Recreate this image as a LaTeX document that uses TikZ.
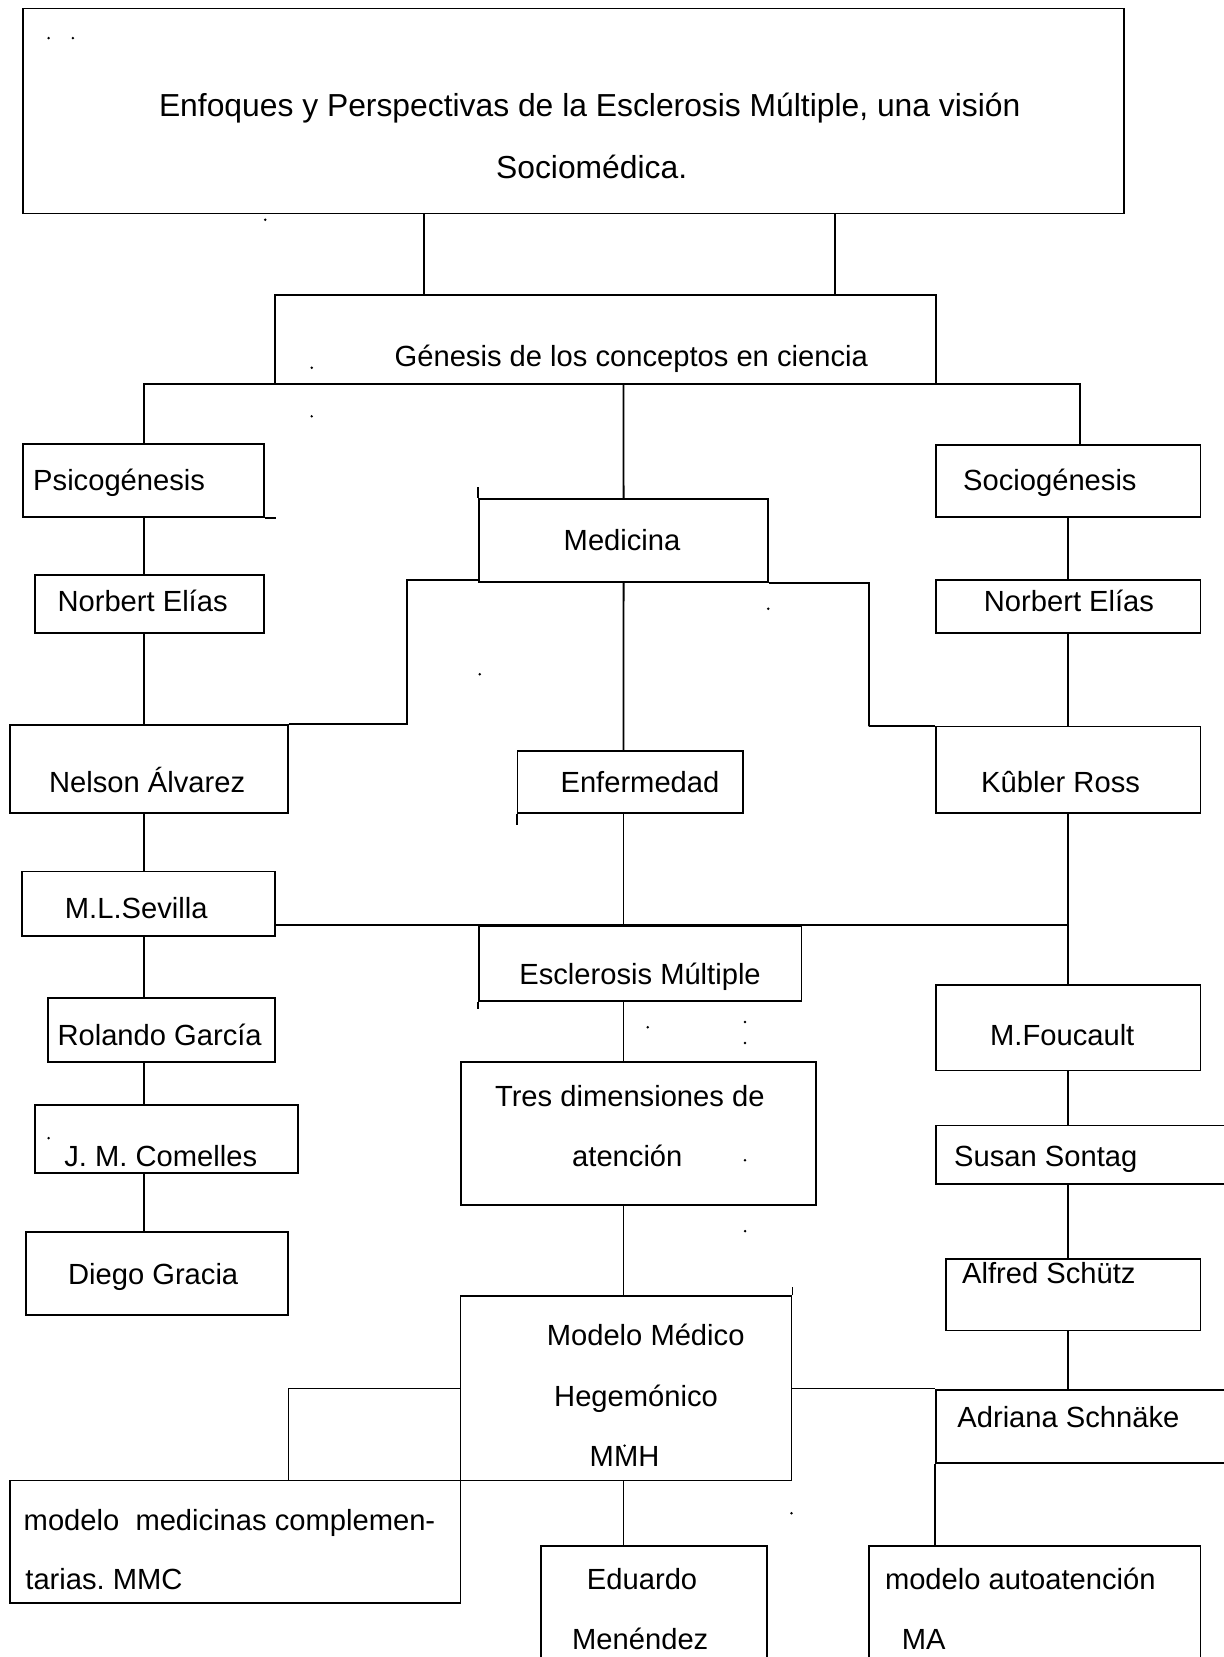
\documentclass[tikz,border=0pt]{standalone}
\usepackage{fontspec}
\setmainfont{Liberation Sans}
\usetikzlibrary{fit}
\frenchspacing
\begin{document}
\begin{tikzpicture}[x=0.435pt,y=-0.435pt,
    caja/.style={draw,line width=0.75pt,inner sep=0pt},
    texto/.style={anchor=west,inner sep=0pt,font=\fontsize{12}{14}\selectfont,text height=9pt,text depth=0.4pt},
    titular/.style={texto,font=\fontsize{13.1}{15}\selectfont},
    enlace/.style={line width=0.75pt}]
\useasboundingbox (0,0) rectangle (1158,1568);

% cajas
\node[caja,fit={(22,8) (1064,202)}] (titulo) {};
\node[caja,fit={(260,279) (885.5,363)}] (genesis) {};
\node[caja,fit={(22,420) (249.6,489.4)}] (psico) {};
\node[caja,fit={(453.5,472) (726.7,551)}] (medicina) {};
\node[caja,fit={(885.5,421) (1136,489.4)}] (socio) {};
\node[caja,fit={(33,544) (249.6,599)}] (norteI) {};
\node[caja,fit={(885.5,549) (1136,599)}] (norteD) {};
\node[caja,fit={(9.6,686) (272.5,769.5)}] (nelson) {};
\node[caja,fit={(489.7,711) (703,769.5)}] (enfermedad) {};
\node[caja,fit={(885.5,687.5) (1136,769.5)}] (kubler) {};
\node[caja,fit={(20.7,824.7) (260,885.5)}] (sevilla) {};
\node[caja,fit={(453.5,876) (758.5,947)}] (esclerosis) {};
\node[caja,fit={(45.8,944) (260,1005)}] (rolando) {};
\node[caja,fit={(885.5,932) (1136,1013)}] (foucault) {};
\node[caja,fit={(436.5,1004.6) (772,1140.6)}] (tres) {};
\node[caja,fit={(33,1045.5) (282,1110)}] (comelles) {};
\node[caja,fit={(885.5,1065) (1175,1120.5)}] (susan) {};
\node[caja,fit={(24.4,1166) (272.5,1244.7)}] (diego) {};
\node[caja,fit={(895,1191.4) (1136,1259)}] (alfred) {};
\node[caja,fit={(435.7,1226.7) (749,1401)}] (mmh) {};
\node[caja,fit={(885.5,1315) (1175,1384.4)}] (adriana) {};
\node[caja,fit={(9.6,1401) (435.7,1517)}] (mmc) {};
\node[caja,fit={(512,1463) (726,1620)}] (eduardo) {};
\node[caja,fit={(822,1463) (1136,1620)}] (ma) {};

% textos
\node[titular] (titulo-a) at (150,100) {Enfoques y Perspectivas de la Esclerosis Múltiple, una visión};
\node[titular] (titulo-b) at (469,159) {Sociomédica.};
\node[texto] (genesis-t) at (373,337) {Génesis de los conceptos en ciencia};
\node[texto] (psico-t) at (31,454) {Psicogénesis};
\node[texto] (medicina-t) at (533,511) {Medicina};
\node[texto] (socio-t) at (911,454) {Sociogénesis};
\node[texto] (norteI-t) at (54,569) {Norbert Elías};
\node[texto] (norteD-t) at (930.6,569) {Norbert Elías};
\node[texto] (nelson-t) at (46,740) {Nelson Álvarez};
\node[texto] (enfermedad-t) at (530,740) {Enfermedad};
\node[texto] (kubler-t) at (928,740) {Kûbler Ross};
\node[texto] (sevilla-t) at (61,859) {M.L.Sevilla};
\node[texto] (esclerosis-t) at (491,922) {Esclerosis Múltiple};
\node[texto] (rolando-t) at (54,979) {Rolando García};
\node[texto] (foucault-t) at (936.5,979) {M.Foucault};
\node[texto] (tres-a) at (468,1037) {Tres dimensiones de};
\node[texto] (tres-b) at (541,1094) {atención};
\node[texto] (comelles-t) at (60.5,1094) {J. M. Comelles};
\node[texto] (susan-t) at (902.5,1094) {Susan Sontag};
\node[texto] (diego-t) at (64,1206) {Diego Gracia};
\node[texto] (alfred-t) at (910,1205) {Alfred Schütz};
\node[texto] (mmh-a) at (517,1263) {Modelo Médico};
\node[texto] (mmh-b) at (524,1320.7) {Hegemónico};
\node[texto] (mmh-c) at (557.6,1378) {MMH};
\node[texto] (adriana-t) at (905.5,1341) {Adriana Schnäke};
\node[texto] (mmc-a) at (22,1438) {modelo~~medicinas complemen-};
\node[texto] (mmc-b) at (23.6,1494) {tarias. MMC};
\node[texto] (eduardo-a) at (555,1494) {Eduardo};
\node[texto] (eduardo-b) at (541,1551) {Menéndez};
\node[texto] (ma-a) at (837,1494) {modelo autoatención};
\node[texto] (ma-b) at (853,1551) {MA};

% ejes de los enlaces
\coordinate (colI) at (136,0);
\coordinate (colC) at (590,0);
\coordinate (colD) at (1011,0);
\coordinate (colM) at (273,0);
\coordinate (bajaA) at (401,0);
\coordinate (bajaB) at (790,0);
\coordinate (ramaI) at (136,363);
\coordinate (ramaD) at (1022,363);
\coordinate (codoI) at (385.5,549);
\coordinate (codoD) at (822,687);

% enlaces
\draw[enlace] (titulo.south -| bajaA) -- (genesis.north -| bajaA);
\draw[enlace] (titulo.south -| bajaB) -- (genesis.north -| bajaB);
\draw[enlace] (psico.north -| colI) -- (ramaI) -- (ramaD) -- (ramaD |- socio.north);
\draw[enlace] (genesis.south -| colC) -- (medicina.north);
\draw[enlace] (psico.south -| colI) -- (norteI.north -| colI);
\draw[enlace] (norteI.south -| colI) -- (nelson.north -| colI);
\draw[enlace] (nelson.north east) -| (codoI) -- (codoI -| medicina.south west);
\draw[enlace] (medicina.south east) -| (codoD) |- (kubler.north west);
\draw[enlace] (medicina.south) -- (enfermedad.north -| colC);
\draw[enlace] (enfermedad.south -| colC) -- (esclerosis.north -| colC);
\draw[enlace] (sevilla.east |- esclerosis.north) -- (colD |- esclerosis.north);
\draw[enlace] (socio.south -| colD) -- (norteD.north -| colD);
\draw[enlace] (norteD.south -| colD) -- (kubler.north -| colD);
\draw[enlace] (kubler.south -| colD) -- (foucault.north -| colD);
\draw[enlace] (foucault.south -| colD) -- (susan.north -| colD);
\draw[enlace] (susan.south -| colD) -- (alfred.north -| colD);
\draw[enlace] (alfred.south -| colD) -- (adriana.north -| colD);
\draw[enlace] (nelson.south -| colI) -- (sevilla.north -| colI);
\draw[enlace] (sevilla.south -| colI) -- (rolando.north -| colI);
\draw[enlace] (rolando.south -| colI) -- (comelles.north -| colI);
\draw[enlace] (comelles.south -| colI) -- (diego.north -| colI);
\draw[enlace] (esclerosis.south -| colC) -- (tres.north -| colC);
\draw[enlace] (tres.south -| colC) -- (mmh.north -| colC);
\draw[enlace] (mmh.west) -| (colM |- mmc.north);
\draw[enlace] (mmh.east) -- (mmh.east -| adriana.west);
\draw[enlace] (adriana.south west) -- (adriana.west |- ma.north);
\draw[enlace] (mmh.south -| colC) -- (eduardo.north -| colC);

% trazos sueltos
\draw[enlace] (medicina.north west) -- ++(0,-10);
\draw[enlace] (enfermedad.south west) -- ++(0,10);
\draw[enlace] (psico.south east) -- ++(11,0);
\draw[enlace] (esclerosis.south west) -- ++(0,7);
\draw[enlace] (mmh.north east) -- ++(0,-8);

% puntos
\foreach \p in {(46,36),(69,36),(251,208),(295,348),(295,394),(727,576),(454,638),(613,972),(705,967),(705,987),(705,1098),(705,1165),(46,1077),(749,1432),(591,1368)}
  \fill \p circle[radius=1.3];
\end{tikzpicture}
\end{document}
